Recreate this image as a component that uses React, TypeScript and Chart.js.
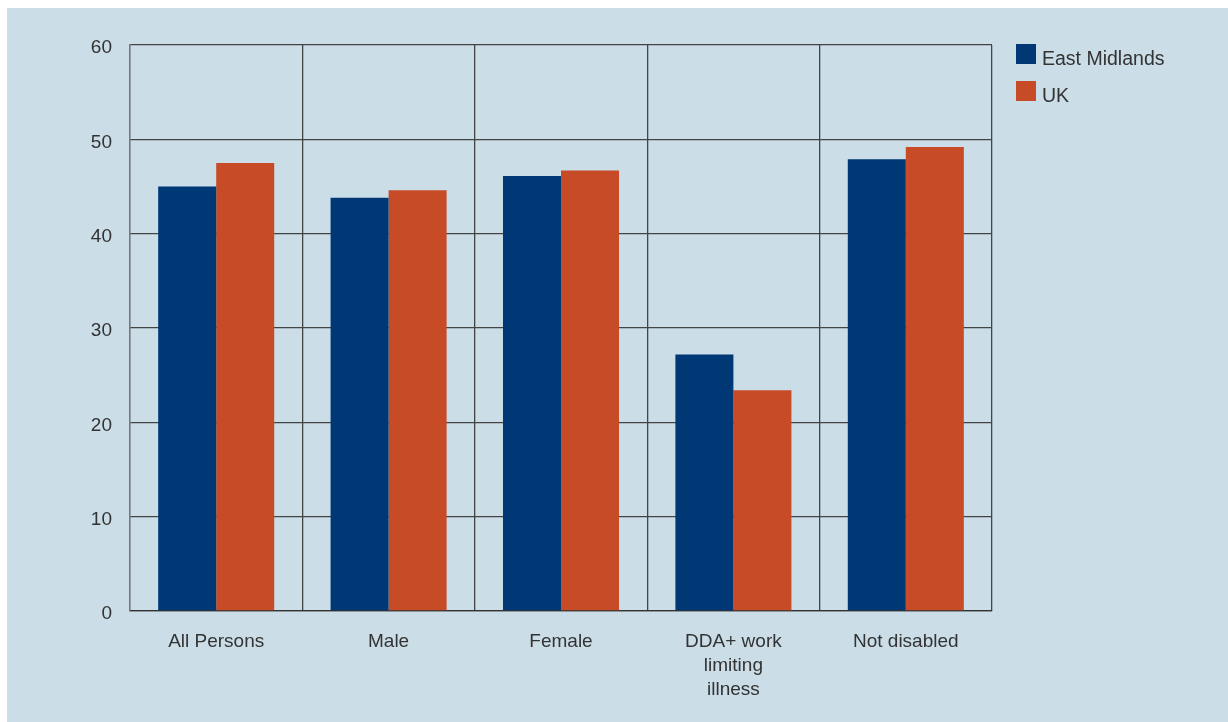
import React, { useEffect, useRef } from "react";
import { Chart, registerables } from "chart.js";

Chart.register(...registerables);

const categories: (string | string[])[] = [
  "All Persons",
  "Male",
  "Female",
  ["DDA+ work", "limiting", "illness"],
  "Not disabled",
];
const eastMidlands = [45.0, 43.8, 46.1, 27.2, 47.9];
const uk = [47.5, 44.6, 46.7, 23.4, 49.2];
const yTicks = [0, 10, 20, 30, 40, 50, 60];

const FONT = "'Liberation Sans', Arial, sans-serif";

const legendPlugin = {
  id: "customLegend",
  afterDraw(chart: any) {
    const ctx = chart.ctx;
    const x0 = chart.chartArea.right + 24;
    let y0 = chart.chartArea.top - 1;
    ctx.save();
    ctx.font = `19.5px ${FONT}`;
    ctx.textBaseline = "middle";
    chart.data.datasets.forEach((ds: any) => {
      ctx.fillStyle = ds.backgroundColor;
      ctx.fillRect(x0, y0, 20, 20);
      ctx.fillStyle = "#333333";
      ctx.fillText(ds.label, x0 + 26, y0 + 15.5);
      y0 += 37;
    });
    ctx.restore();
  },
};

export default function App() {
  const ref = useRef<HTMLCanvasElement>(null);
  useEffect(() => {
    if (!ref.current) return;
    const chart = new Chart(ref.current, {
      type: "bar",
      data: {
        labels: categories,
        datasets: [
          { label: "East Midlands", data: eastMidlands, backgroundColor: "#003876" },
          { label: "UK", data: uk, backgroundColor: "#c64b26" },
        ],
      },
      options: {
        animation: false,
        responsive: false,
        maintainAspectRatio: false,
        layout: { padding: { top: 37, right: 236, left: 0, bottom: 0 } },
        datasets: {
          bar: { categoryPercentage: 0.673, barPercentage: 1.0 },
        } as any,
        plugins: {
          legend: { display: false },
          tooltip: { enabled: false },
        },
        scales: {
          x: {
            grid: {
              offset: true,
              color: "#444444",
              lineWidth: 1.3,
              drawTicks: false,
            },
            border: { display: true, color: "#333333", width: 1.3 },
            ticks: {
              color: "#333333",
              font: { family: FONT, size: 19, lineHeight: 1.263 },
              padding: 19,
              maxRotation: 0,
              autoSkip: false,
            },
            afterFit: (s: any) => {
              s.height = 111;
            },
          },
          y: {
            min: 0,
            max: 60,
            afterBuildTicks: (s: any) => {
              s.ticks = yTicks.map((v) => ({ value: v }));
            },
            grid: { color: "#444444", lineWidth: 1.3, drawTicks: false },
            border: { display: true, color: "#777777", width: 1.3 },
            ticks: {
              color: "#333333",
              font: { family: FONT, size: 19 },
              padding: 18,
              labelOffset: 3,
            },
            afterFit: (s: any) => {
              s.width = 123;
            },
          },
        },
      },
      plugins: [legendPlugin],
    });
    return () => chart.destroy();
  }, []);
  return (
    <div
      style={{
        position: "fixed",
        left: 7,
        top: 8,
        width: 1221,
        height: 714,
        background: "#cbdde7",
      }}
    >
      <canvas ref={ref} width={1221} height={714} style={{ display: "block" }} />
    </div>
  );
}
